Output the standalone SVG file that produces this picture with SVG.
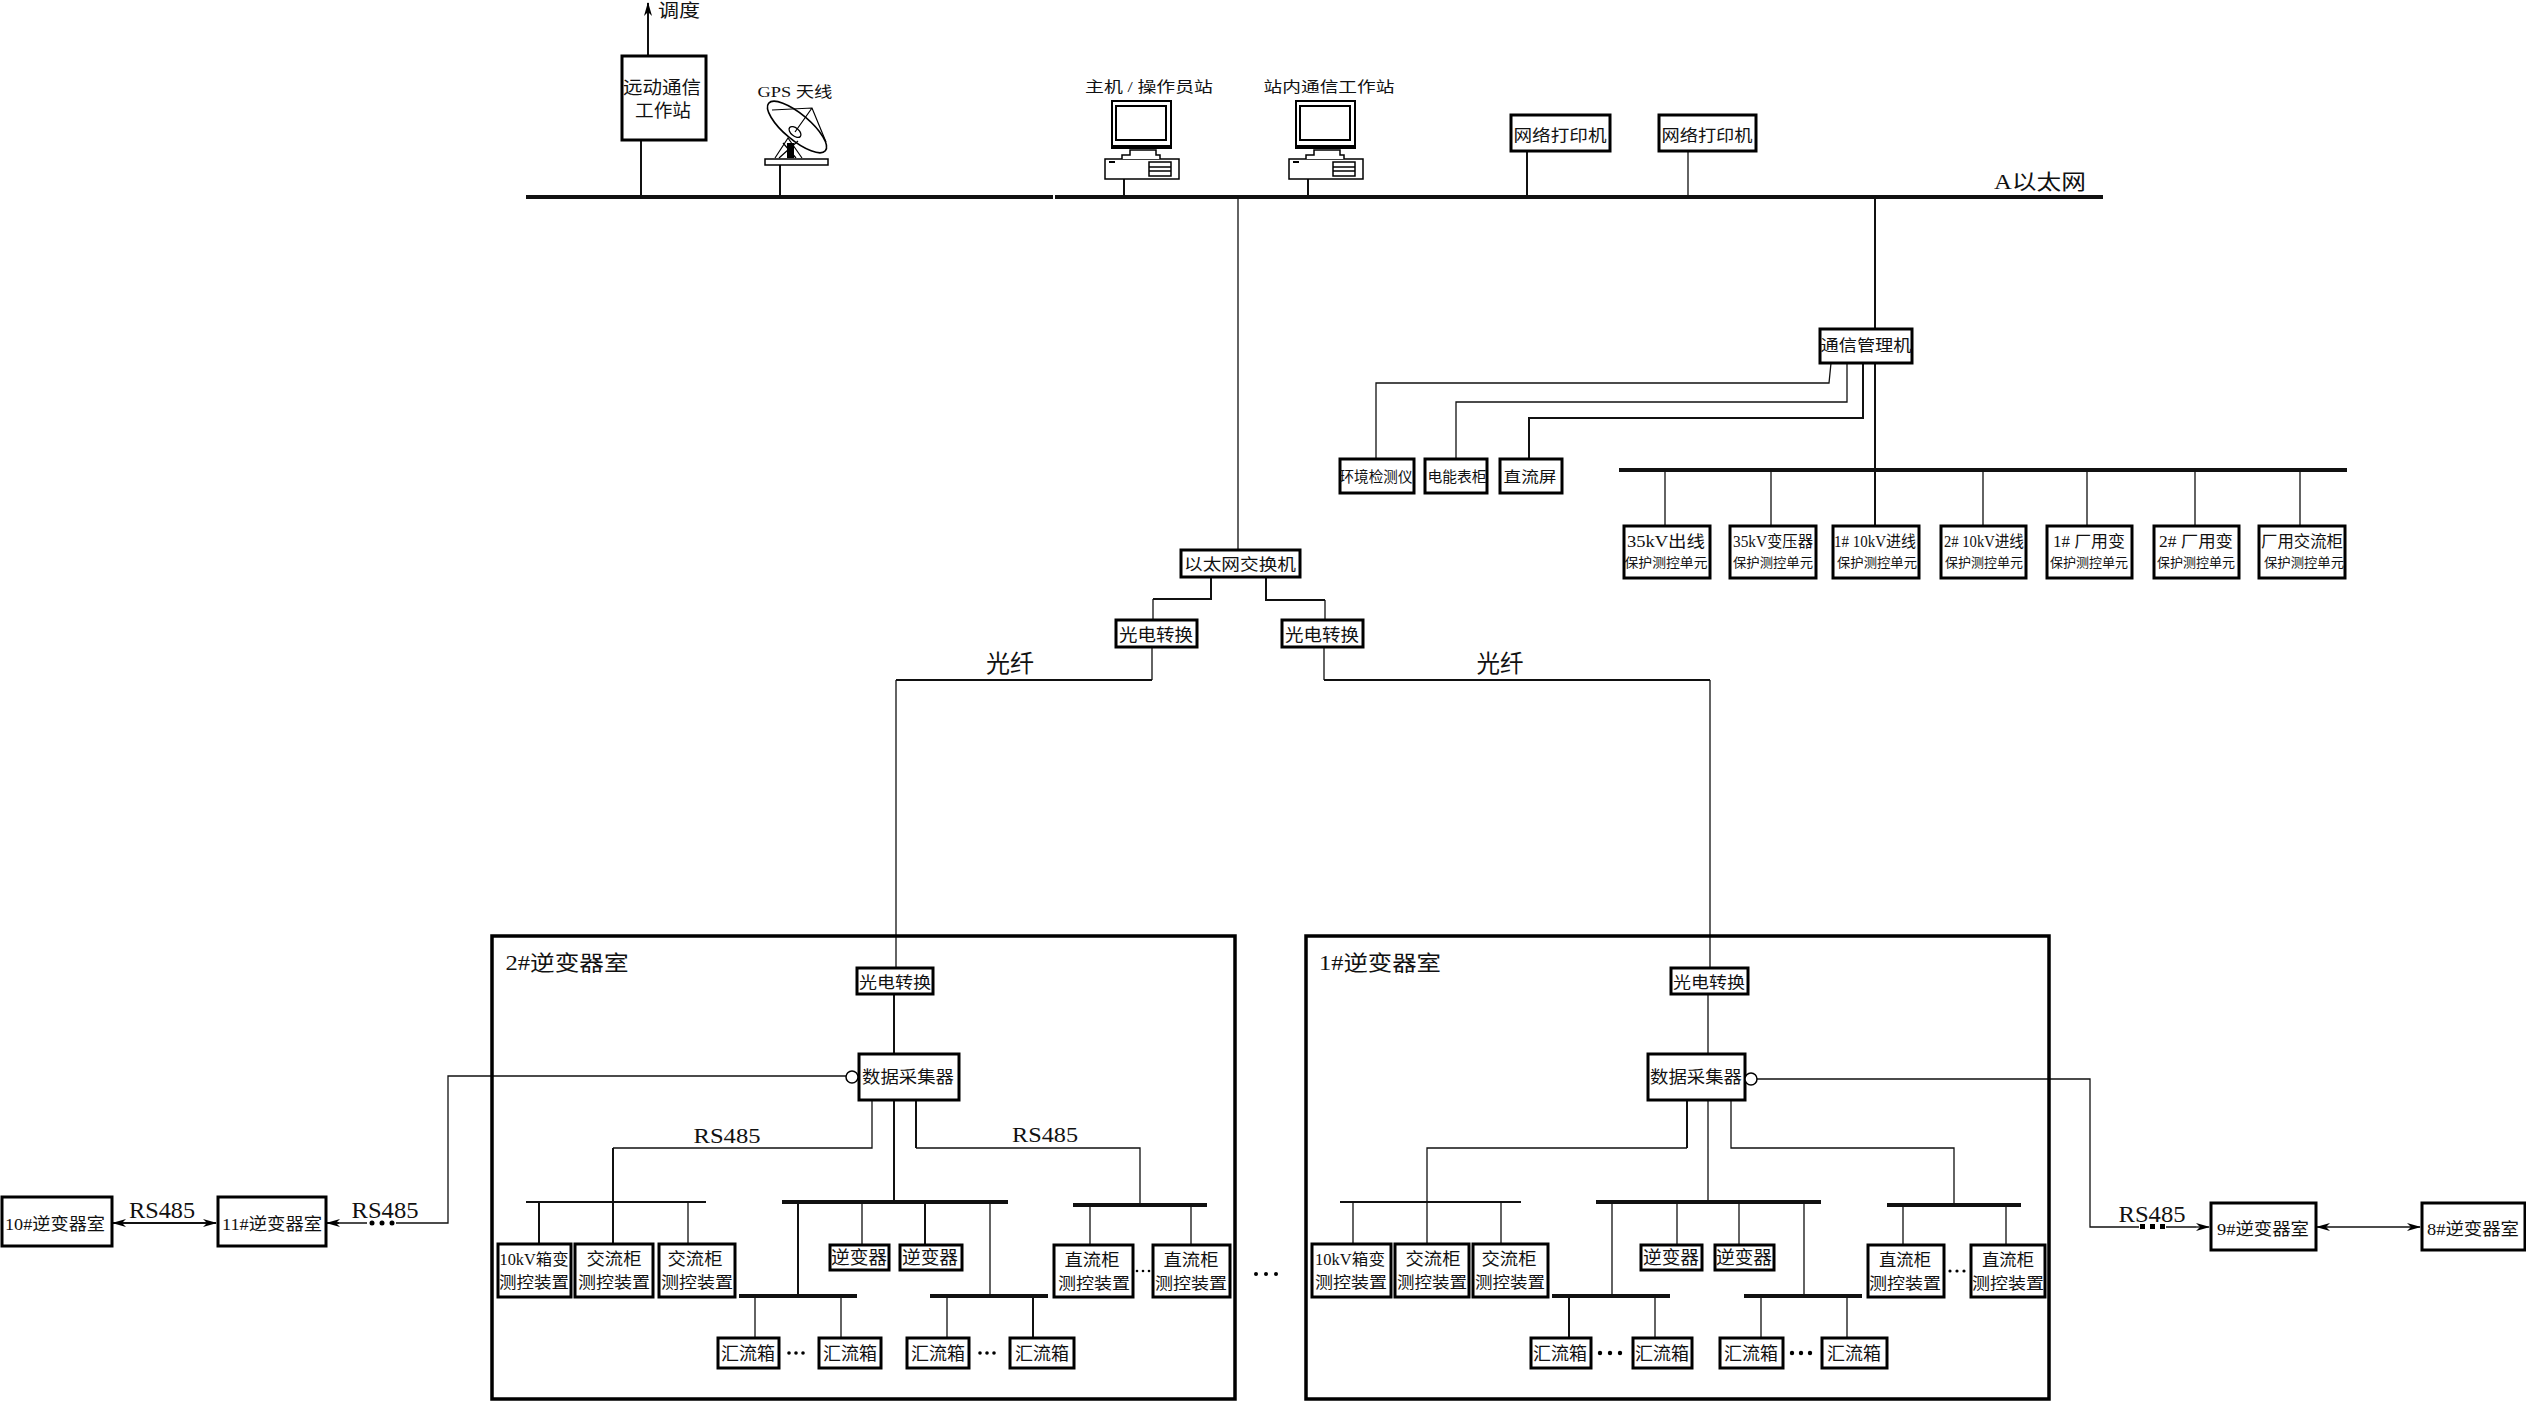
<svg xmlns="http://www.w3.org/2000/svg" width="2526" height="1401" viewBox="0 0 2526 1401">
<style>
text{font-family:"Liberation Serif","Noto Sans CJK SC",serif;fill:#111;text-anchor:middle;font-size:16px}
.f15{font-size:15px}.f13{font-size:13px}.f17{font-size:17px}.f18{font-size:18px}.f21{font-size:21px}.f24{font-size:24px}
.r,.b,.c{fill:#fff;stroke:#000}
.b{stroke-width:3}.r{stroke-width:3.5;fill:none}.c{stroke-width:1.5}
.l1,.l2,.l3,.bus,.sb{fill:none;stroke:#111}
.l1{stroke-width:1.3}.l2{stroke-width:2}.l3{stroke-width:3}.bus{stroke-width:4}.sb{stroke-width:3}
.d{fill:#000}
</style>
<defs>
<marker id="a" viewBox="0 0 14 8" refX="13" refY="4" markerWidth="14" markerHeight="8" markerUnits="userSpaceOnUse" orient="auto-start-reverse"><path d="M0 0L14 4L0 8L4 4Z" fill="#000"/></marker>
<g id="pc">
<rect class="c" x="1105" y="159" width="74" height="20"/>
<rect x="1109" y="161" width="6" height="2" fill="#000"/>
<rect class="c" x="1149" y="162" width="22" height="14"/>
<path d="M1149 167H1171M1149 171H1171" stroke="#000" stroke-width="1.5"/>
<path class="c" d="M1122 159V155H1130V150H1156V155H1160V159"/>
<rect x="1112" y="101" width="59" height="47" fill="#fff" stroke="#000" stroke-width="2"/>
<rect x="1116" y="106" width="50" height="34" fill="#fff" stroke="#000" stroke-width="2"/>
<rect x="1112" y="145" width="59" height="3" fill="#000"/>
</g>
</defs>

<g id="connectors">
<path class="bus" d="M526 197H1053M1055 197H2103"/>
<path class="l2" d="M648 55V3" marker-end="url(#a)"/>
<path class="l2" d="M641 140V197M780 165V197M1527 151V197M1124 179V197M1308 179V197"/>
<path class="l1" d="M1688 151V197M1238 197V549"/>
<path class="l2" d="M1875 197V328M1875 363V525"/>
<path class="l1" d="M1831 363L1829 383H1376V458"/>
<path class="l1" d="M1847 363V402H1456V458"/>
<path class="l2" d="M1863 363V418H1529V458"/>
<path class="bus" d="M1619 470H2347"/>
<path class="l1" d="M1665 470V525M1771 470V525M1983 470V525M2087 470V525M2195 470V525M2300 470V525"/>
<path class="l2" d="M1211 577V599H1153"/><path class="l1" d="M1153 599V619"/>
<path class="l2" d="M1266 577V600H1325"/><path class="l1" d="M1325 600V619"/>
<path class="l1" d="M1152 647V680M1324 647V680"/>
<path class="l2" d="M1152 680H896M1324 680H1710"/>
<path class="l1" d="M896 680V968M1710 680V968"/>

<path class="l1" d="M846 1076H448V1223H396M367 1223H339"/>
<path d="M339 1223H327" class="l2" marker-end="url(#a)"/>
<path class="l2" d="M113 1223H216" marker-start="url(#a)" marker-end="url(#a)"/>
<path class="l2" d="M894 994V1053M894 1100V1202M613 1148V1243"/>
<path class="l1" d="M872 1100V1148H613"/>
<path class="l2" d="M916 1100V1148"/><path class="l1" d="M916 1148H1140V1205"/>
<path class="l2" d="M526 1202H706"/><path class="bus" d="M782 1202H1008"/><path class="bus" d="M1073 1205H1207"/>
<path class="l2" d="M539 1202V1243M798 1202V1296M925 1202V1244M1033 1296V1337"/>
<path class="l1" d="M688 1202V1243M862 1202V1244M990 1202V1296M1090 1205V1244M1191 1205V1244M755 1296V1337M841 1296V1337M947 1296V1337"/>
<path class="bus" d="M739 1296H857M930 1296H1048"/>

<path class="l1" d="M1757 1079H2090V1227H2139M2166 1227H2196M1708 994V1053M1708 1100V1202M1731 1100V1148H1954V1205"/>
<path class="l1" d="M2196 1227H2209" marker-end="url(#a)"/>
<path class="l1" d="M2317 1227H2420" marker-start="url(#a)" marker-end="url(#a)"/>
<path class="l2" d="M1687 1100V1148"/><path class="l1" d="M1687 1148H1427V1243"/>
<path class="l2" d="M1340 1202H1521"/><path class="bus" d="M1596 1202H1821M1887 1205H2021"/>
<path class="l1" d="M1353 1202V1243M1501 1202V1243M1612 1202V1296M1677 1202V1244M1739 1202V1244M1804 1202V1296M1903 1205V1244M2006 1205V1244M1655 1296V1337M1761 1296V1337M1847 1296V1337"/>
<path class="l2" d="M1569 1296V1337"/>
<path class="bus" d="M1552 1296H1670M1744 1296H1862"/>

<g class="d">
<circle cx="372" cy="1223" r="2.5"/><circle cx="382" cy="1223" r="2.5"/><circle cx="392" cy="1223" r="2.5"/>
<rect x="2140" y="1224" width="5" height="5"/><rect x="2150" y="1224" width="5" height="5"/><rect x="2160" y="1224" width="5" height="5"/>
<circle cx="789" cy="1353" r="1.8"/><circle cx="796" cy="1353" r="1.8"/><circle cx="803" cy="1353" r="1.8"/>
<circle cx="980" cy="1353" r="1.8"/><circle cx="987" cy="1353" r="1.8"/><circle cx="994" cy="1353" r="1.8"/>
<circle cx="1137" cy="1271" r="1.3"/><circle cx="1143" cy="1271" r="1.3"/><circle cx="1149" cy="1271" r="1.3"/>
<circle cx="1600" cy="1353" r="2.2"/><circle cx="1610" cy="1353" r="2.2"/><circle cx="1620" cy="1353" r="2.2"/>
<circle cx="1792" cy="1353" r="2.2"/><circle cx="1801" cy="1353" r="2.2"/><circle cx="1810" cy="1353" r="2.2"/>
<circle cx="1950" cy="1271" r="1.6"/><circle cx="1957" cy="1271" r="1.6"/><circle cx="1964" cy="1271" r="1.6"/>
<circle cx="1256" cy="1274" r="2"/><circle cx="1266" cy="1274" r="2"/><circle cx="1276" cy="1274" r="2"/>
</g>
</g>

<g id="label-dispatch"><text class="f18" x="679" y="17" textLength="42" lengthAdjust="spacingAndGlyphs">调度</text></g>
<g id="n-telecontrol"><rect class="b" x="622" y="56" width="84" height="84"/><text class="f18" x="662" y="94" textLength="78" lengthAdjust="spacingAndGlyphs">远动通信</text><text class="f18" x="663" y="117" textLength="56" lengthAdjust="spacingAndGlyphs">工作站</text></g>
<g id="n-gps">
<text class="f15" x="795" y="97" textLength="75" lengthAdjust="spacingAndGlyphs">GPS 天线</text>
<ellipse cx="797" cy="127" rx="37" ry="13" transform="rotate(40 797 127)" fill="#fff" stroke="#000" stroke-width="1.6"/>
<ellipse cx="795" cy="132" rx="7" ry="4" transform="rotate(40 795 132)" fill="#fff" stroke="#000" stroke-width="1.3"/>
<path d="M772 110L812 108L826 142M812 108L795 132M775 158L788 138L802 158M779 158L798 141M796 158L783 143" fill="none" stroke="#000" stroke-width="1.2"/>
<rect x="787" y="143" width="7" height="15" fill="#000"/>
<rect class="c" x="765" y="159" width="63" height="6"/>
</g>
<g id="n-host"><text class="f15" x="1149" y="92" textLength="128" lengthAdjust="spacingAndGlyphs">主机 / 操作员站</text><use href="#pc"/></g>
<g id="n-station"><text class="f15" x="1329" y="92" textLength="131" lengthAdjust="spacingAndGlyphs">站内通信工作站</text><use href="#pc" x="184"/></g>
<g id="n-printer1"><rect class="b" x="1511" y="115" width="99" height="36"/><text x="1560" y="141" textLength="93" lengthAdjust="spacingAndGlyphs">网络打印机</text></g>
<g id="n-printer2"><rect class="b" x="1659" y="115" width="97" height="36"/><text x="1707" y="141" textLength="91" lengthAdjust="spacingAndGlyphs">网络打印机</text></g>
<g id="label-ethernet"><text class="f21" x="2040" y="189" textLength="92" lengthAdjust="spacingAndGlyphs">A以太网</text></g>

<g id="n-commgr"><rect class="b" x="1820" y="329" width="92" height="34"/><text x="1866" y="351" textLength="91" lengthAdjust="spacingAndGlyphs">通信管理机</text></g>
<g id="n-env"><rect class="b" x="1340" y="459" width="74" height="34"/><text class="f15" x="1376" y="482" textLength="73" lengthAdjust="spacingAndGlyphs">环境检测仪</text></g>
<g id="n-meter"><rect class="b" x="1425" y="459" width="62" height="34"/><text class="f15" x="1457" y="482" textLength="59" lengthAdjust="spacingAndGlyphs">电能表柜</text></g>
<g id="n-dcscreen"><rect class="b" x="1500" y="459" width="62" height="34"/><text class="f15" x="1530" y="482" textLength="53" lengthAdjust="spacingAndGlyphs">直流屏</text></g>

<g id="n-p1"><rect class="b" x="1624" y="526" width="86" height="52"/><text x="1666" y="547" textLength="78" lengthAdjust="spacingAndGlyphs">35kV出线</text><text class="f13" x="1666" y="567" textLength="83" lengthAdjust="spacingAndGlyphs">保护测控单元</text></g>
<g id="n-p2"><rect class="b" x="1730" y="526" width="86" height="52"/><text x="1773" y="547" textLength="80" lengthAdjust="spacingAndGlyphs">35kV变压器</text><text class="f13" x="1773" y="567" textLength="80" lengthAdjust="spacingAndGlyphs">保护测控单元</text></g>
<g id="n-p3"><rect class="b" x="1833" y="526" width="86" height="52"/><text x="1875" y="547" textLength="82" lengthAdjust="spacingAndGlyphs">1# 10kV进线</text><text class="f13" x="1877" y="567" textLength="80" lengthAdjust="spacingAndGlyphs">保护测控单元</text></g>
<g id="n-p4"><rect class="b" x="1941" y="526" width="85" height="52"/><text x="1984" y="547" textLength="80" lengthAdjust="spacingAndGlyphs">2# 10kV进线</text><text class="f13" x="1984" y="567" textLength="78" lengthAdjust="spacingAndGlyphs">保护测控单元</text></g>
<g id="n-p5"><rect class="b" x="2047" y="526" width="85" height="52"/><text x="2089" y="547" textLength="72" lengthAdjust="spacingAndGlyphs">1# 厂用变</text><text class="f13" x="2089" y="567" textLength="78" lengthAdjust="spacingAndGlyphs">保护测控单元</text></g>
<g id="n-p6"><rect class="b" x="2154" y="526" width="85" height="52"/><text x="2196" y="547" textLength="74" lengthAdjust="spacingAndGlyphs">2# 厂用变</text><text class="f13" x="2196" y="567" textLength="78" lengthAdjust="spacingAndGlyphs">保护测控单元</text></g>
<g id="n-p7"><rect class="b" x="2259" y="526" width="86" height="52"/><text x="2302" y="547" textLength="82" lengthAdjust="spacingAndGlyphs">厂用交流柜</text><text class="f13" x="2304" y="567" textLength="80" lengthAdjust="spacingAndGlyphs">保护测控单元</text></g>

<g id="n-switch"><rect class="b" x="1181" y="550" width="119" height="27"/><text x="1240" y="570" textLength="112" lengthAdjust="spacingAndGlyphs">以太网交换机</text></g>
<g id="n-oe1"><rect class="b" x="1116" y="620" width="81" height="27"/><text class="f17" x="1156" y="641" textLength="74" lengthAdjust="spacingAndGlyphs">光电转换</text></g>
<g id="n-oe2"><rect class="b" x="1282" y="620" width="81" height="27"/><text class="f17" x="1322" y="641" textLength="74" lengthAdjust="spacingAndGlyphs">光电转换</text></g>
<g id="label-fiber1"><text class="f24" x="1010" y="672" textLength="48" lengthAdjust="spacingAndGlyphs">光纤</text></g>
<g id="label-fiber2"><text class="f24" x="1500" y="672" textLength="47" lengthAdjust="spacingAndGlyphs">光纤</text></g>

<g id="room2">
<rect class="r" x="492" y="936" width="743" height="463"/>
<text class="f21" x="567" y="970" textLength="123" lengthAdjust="spacingAndGlyphs">2#逆变器室</text>
<g id="r2-oe"><rect class="b" x="857" y="968" width="76" height="26"/><text x="895" y="988" textLength="72" lengthAdjust="spacingAndGlyphs">光电转换</text></g>
<g id="r2-dc"><rect class="b" x="859" y="1054" width="100" height="46"/><circle cx="852" cy="1077" r="6" fill="#fff" stroke="#000" stroke-width="1.5"/><text class="f17" x="908" y="1083" textLength="92" lengthAdjust="spacingAndGlyphs">数据采集器</text></g>
<text class="f21" x="727" y="1143" textLength="67" lengthAdjust="spacingAndGlyphs">RS485</text>
<text class="f21" x="1045" y="1142" textLength="66" lengthAdjust="spacingAndGlyphs">RS485</text>
<g id="r2-a1"><rect class="b" x="498" y="1244" width="73" height="53"/><text x="534" y="1265" textLength="69" lengthAdjust="spacingAndGlyphs">10kV箱变</text><text x="534" y="1288" textLength="70" lengthAdjust="spacingAndGlyphs">测控装置</text></g>
<g id="r2-a2"><rect class="b" x="575" y="1244" width="78" height="53"/><text class="f17" x="614" y="1265" textLength="55" lengthAdjust="spacingAndGlyphs">交流柜</text><text x="614" y="1288" textLength="72" lengthAdjust="spacingAndGlyphs">测控装置</text></g>
<g id="r2-a3"><rect class="b" x="659" y="1244" width="76" height="53"/><text class="f17" x="695" y="1265" textLength="55" lengthAdjust="spacingAndGlyphs">交流柜</text><text x="697" y="1288" textLength="72" lengthAdjust="spacingAndGlyphs">测控装置</text></g>
<g id="r2-i1"><rect class="b" x="830" y="1245" width="59" height="25"/><text class="f18" x="859" y="1264" textLength="56" lengthAdjust="spacingAndGlyphs">逆变器</text></g>
<g id="r2-i2"><rect class="b" x="900" y="1245" width="62" height="25"/><text class="f18" x="930" y="1264" textLength="56" lengthAdjust="spacingAndGlyphs">逆变器</text></g>
<g id="r2-d1"><rect class="b" x="1054" y="1245" width="79" height="52"/><text class="f17" x="1092" y="1266" textLength="55" lengthAdjust="spacingAndGlyphs">直流柜</text><text x="1094" y="1289" textLength="72" lengthAdjust="spacingAndGlyphs">测控装置</text></g>
<g id="r2-d2"><rect class="b" x="1153" y="1245" width="77" height="52"/><text class="f17" x="1191" y="1266" textLength="55" lengthAdjust="spacingAndGlyphs">直流柜</text><text x="1191" y="1289" textLength="72" lengthAdjust="spacingAndGlyphs">测控装置</text></g>
<g id="r2-h1"><rect class="b" x="718" y="1338" width="61" height="30"/><text class="f18" x="748" y="1360" textLength="54" lengthAdjust="spacingAndGlyphs">汇流箱</text></g>
<g id="r2-h2"><rect class="b" x="819" y="1338" width="62" height="30"/><text class="f18" x="850" y="1360" textLength="54" lengthAdjust="spacingAndGlyphs">汇流箱</text></g>
<g id="r2-h3"><rect class="b" x="907" y="1338" width="62" height="30"/><text class="f18" x="938" y="1360" textLength="54" lengthAdjust="spacingAndGlyphs">汇流箱</text></g>
<g id="r2-h4"><rect class="b" x="1010" y="1338" width="64" height="30"/><text class="f18" x="1042" y="1360" textLength="54" lengthAdjust="spacingAndGlyphs">汇流箱</text></g>
</g>

<g id="room1">
<rect class="r" x="1306" y="936" width="743" height="463"/>
<text class="f21" x="1380" y="970" textLength="122" lengthAdjust="spacingAndGlyphs">1#逆变器室</text>
<g id="r1-oe"><rect class="b" x="1671" y="968" width="77" height="26"/><text x="1709" y="988" textLength="72" lengthAdjust="spacingAndGlyphs">光电转换</text></g>
<g id="r1-dc"><rect class="b" x="1648" y="1054" width="97" height="46"/><circle cx="1751" cy="1079" r="6" fill="#fff" stroke="#000" stroke-width="1.5"/><text class="f17" x="1696" y="1083" textLength="92" lengthAdjust="spacingAndGlyphs">数据采集器</text></g>
<g id="r1-a1"><rect class="b" x="1312" y="1244" width="79" height="53"/><text x="1350" y="1265" textLength="70" lengthAdjust="spacingAndGlyphs">10kV箱变</text><text x="1351" y="1288" textLength="72" lengthAdjust="spacingAndGlyphs">测控装置</text></g>
<g id="r1-a2"><rect class="b" x="1395" y="1244" width="74" height="53"/><text class="f17" x="1433" y="1265" textLength="55" lengthAdjust="spacingAndGlyphs">交流柜</text><text x="1432" y="1288" textLength="70" lengthAdjust="spacingAndGlyphs">测控装置</text></g>
<g id="r1-a3"><rect class="b" x="1473" y="1244" width="75" height="53"/><text class="f17" x="1509" y="1265" textLength="55" lengthAdjust="spacingAndGlyphs">交流柜</text><text x="1510" y="1288" textLength="70" lengthAdjust="spacingAndGlyphs">测控装置</text></g>
<g id="r1-i1"><rect class="b" x="1641" y="1245" width="61" height="25"/><text class="f18" x="1671" y="1264" textLength="56" lengthAdjust="spacingAndGlyphs">逆变器</text></g>
<g id="r1-i2"><rect class="b" x="1715" y="1245" width="59" height="25"/><text class="f18" x="1744" y="1264" textLength="56" lengthAdjust="spacingAndGlyphs">逆变器</text></g>
<g id="r1-d1"><rect class="b" x="1868" y="1245" width="76" height="52"/><text class="f17" x="1905" y="1266" textLength="52" lengthAdjust="spacingAndGlyphs">直流柜</text><text x="1905" y="1289" textLength="72" lengthAdjust="spacingAndGlyphs">测控装置</text></g>
<g id="r1-d2"><rect class="b" x="1971" y="1245" width="74" height="52"/><text class="f17" x="2008" y="1266" textLength="52" lengthAdjust="spacingAndGlyphs">直流柜</text><text x="2008" y="1289" textLength="72" lengthAdjust="spacingAndGlyphs">测控装置</text></g>
<g id="r1-h1"><rect class="b" x="1531" y="1338" width="60" height="30"/><text class="f18" x="1560" y="1360" textLength="54" lengthAdjust="spacingAndGlyphs">汇流箱</text></g>
<g id="r1-h2"><rect class="b" x="1633" y="1338" width="59" height="30"/><text class="f18" x="1662" y="1360" textLength="54" lengthAdjust="spacingAndGlyphs">汇流箱</text></g>
<g id="r1-h3"><rect class="b" x="1720" y="1338" width="63" height="30"/><text class="f18" x="1751" y="1360" textLength="54" lengthAdjust="spacingAndGlyphs">汇流箱</text></g>
<g id="r1-h4"><rect class="b" x="1822" y="1338" width="65" height="30"/><text class="f18" x="1854" y="1360" textLength="54" lengthAdjust="spacingAndGlyphs">汇流箱</text></g>
</g>

<g id="n-r10"><rect class="b" x="2" y="1197" width="110" height="49"/><text class="f17" x="55" y="1230" textLength="100" lengthAdjust="spacingAndGlyphs">10#逆变器室</text></g>
<g id="n-r11"><rect class="b" x="218" y="1197" width="108" height="49"/><text class="f17" x="272" y="1230" textLength="100" lengthAdjust="spacingAndGlyphs">11#逆变器室</text></g>
<g id="n-r9"><rect class="b" x="2211" y="1203" width="105" height="47"/><text class="f17" x="2263" y="1235" textLength="92" lengthAdjust="spacingAndGlyphs">9#逆变器室</text></g>
<g id="n-r8"><rect class="b" x="2422" y="1203" width="103" height="47"/><text class="f17" x="2473" y="1235" textLength="92" lengthAdjust="spacingAndGlyphs">8#逆变器室</text></g>
<text class="f24" x="162" y="1218" textLength="66" lengthAdjust="spacingAndGlyphs">RS485</text>
<text class="f24" x="385" y="1218" textLength="67" lengthAdjust="spacingAndGlyphs">RS485</text>
<text class="f24" x="2152" y="1222" textLength="67" lengthAdjust="spacingAndGlyphs">RS485</text>
</svg>
